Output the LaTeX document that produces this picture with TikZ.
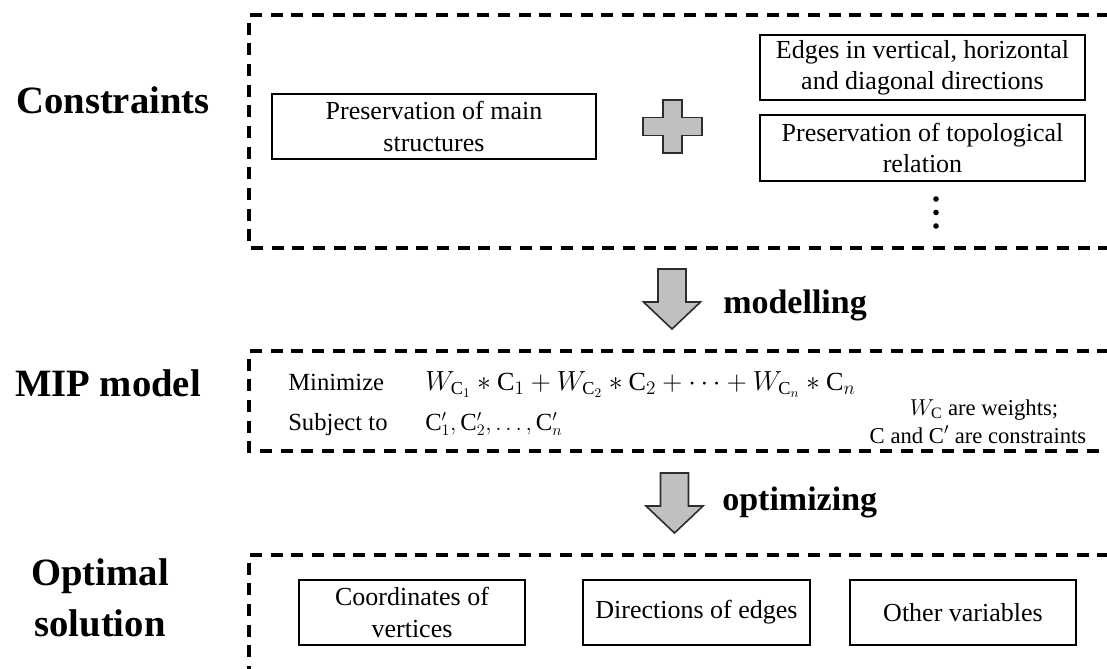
\documentclass[tikz,border=0pt]{standalone}
\usepackage{fontspec}
\setmainfont{Liberation Serif}
\usetikzlibrary{calc}

\definecolor{boxgray}{RGB}{192,192,192}
\definecolor{edgegray}{RGB}{45,45,45}

\tikzset{
  framed/.style={draw, line width=1.2pt, inner sep=0pt, align=center,
    font=\fontsize{19.5}{23.5}\selectfont},
  groupline/.style={line width=2.3pt, dash pattern=on 9pt off 6.5pt},
  heading/.style={font=\fontsize{29}{38}\selectfont\bfseries, align=center},
  steplabel/.style={font=\fontsize{25.5}{30}\selectfont\bfseries, anchor=base west, inner sep=0pt},
  modeltext/.style={font=\fontsize{18.5}{22}\selectfont, anchor=base west, inner sep=0pt},
  formulatext/.style={font=\fontsize{19.6}{23}\selectfont, anchor=base west, inner sep=0pt},
  notetext/.style={font=\fontsize{17}{20}\selectfont, anchor=base, inner sep=0pt},
  blockfill/.style={fill=boxgray, draw=edgegray, line width=1.2pt, line join=miter},
  pics/downarrow/.style={code={
    \path[blockfill] (-14,0) -- (14,0) -- (14,33) -- (28.5,33) -- (0,60)
      -- (-28.5,33) -- (-14,33) -- cycle;}},
  pics/plussign/.style={code={
    \path[blockfill] (-9.5,-26.5) -- (9.5,-26.5) -- (9.5,-9) -- (29.5,-9)
      -- (29.5,9) -- (9.5,9) -- (9.5,26.5) -- (-9.5,26.5) -- (-9.5,9)
      -- (-29.5,9) -- (-29.5,-9) -- (-9.5,-9) -- cycle;}},
}

\begin{document}
\begin{tikzpicture}[x=0.75pt,y=-0.75pt]
  \clip (0,0) rectangle (1107,668);
  \fill[white] (0,0) rectangle (1107,668);

  % group frames (open to the right)
  \draw[groupline] (1130,15) -- (249,15) -- (249,248) -- (1130,248);
  \draw[groupline] (1130,351) -- (249,351) -- (249,451) -- (1130,451);
  \draw[groupline] (1130,555) -- (249,555) -- (249,690);

  % row headings
  \node[heading] (hcon) at (113,100) {Constraints};
  \node[heading] (hmip) at (108,383) {MIP model};
  \node[heading] (hopt) at (100,598) {Optimal\\solution};

  % constraints group
  \node[framed, minimum width=243pt, minimum height=48.75pt] (main) at (434,126.5)
    {Preservation of main\\structures};
  \pic at (672.5,126.5) {plussign};
  \node[framed, minimum width=243.75pt, minimum height=48.75pt] (edges) at (922.5,67.5)
    {Edges in vertical, horizontal\\and diagonal directions};
  \node[framed, minimum width=243.75pt, minimum height=49.5pt] (topo) at (922.5,148)
    {Preservation of topological\\relation};
  \foreach \yy in {199,212.5,226} \fill (936,\yy) circle (2.8);

  % modelling step
  \pic at (672,269) {downarrow};
  \node[steplabel] (lmod) at (723,313) {modelling};

  % MIP model group
  \node[modeltext] (mina) at (288,390) {Minimize};
  \node[formulatext] (minb) at (425,390)
    {$W_{\mathrm{C}_1}\ast\mathrm{C}_1+W_{\mathrm{C}_2}\ast\mathrm{C}_2+\cdots+W_{\mathrm{C}_n}\ast\mathrm{C}_n$};
  \node[modeltext] (suba) at (288,430) {Subject to};
  \node[modeltext] (subb) at (425,430)
    {$\mathrm{C}'_1,\mathrm{C}'_2,\ldots,\mathrm{C}'_n$};
  \node[notetext] (wc1) at (984,415) {$W_{\mathrm{C}}$ are weights;};
  \node[notetext] (wc2) at (978,443) {C and C$'$ are constraints};

  % optimizing step
  \pic at (674.5,473) {downarrow};
  \node[steplabel] (lopt) at (722,510) {optimizing};

  % optimal solution group
  \node[framed, minimum width=169.5pt, minimum height=48.75pt] (coord) at (412,612.5)
    {Coordinates of\\vertices};
  \node[framed, minimum width=170.25pt, minimum height=48.75pt] (dir) at (696.5,612.5)
    {Directions of edges};
  \node[framed, minimum width=169.5pt, minimum height=48.75pt] (other) at (963,612.5)
    {Other variables};
\end{tikzpicture}
\end{document}
